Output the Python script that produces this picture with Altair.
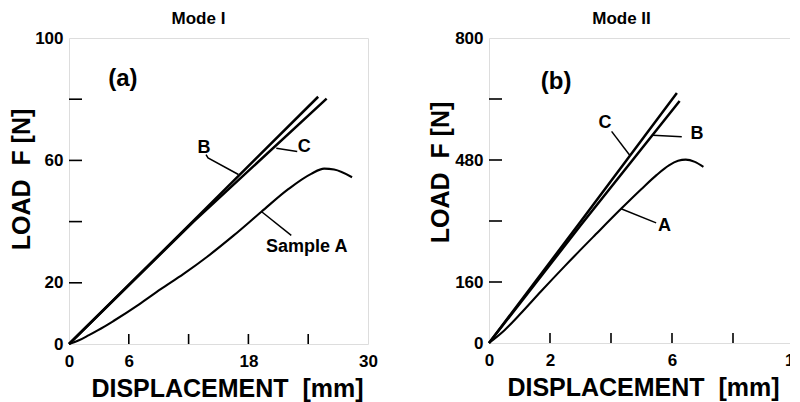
import altair as alt
import pandas as pd

FONT = "Liberation Sans"

# ---------------- Mode I data ----------------
a1_x = [0, 1, 2, 3.5, 4.5, 7, 9.2, 11.5, 13.9, 16.5, 19.3, 22, 24.3, 25.6, 26.6, 28.4]
a1_y = [0, 1.2, 2.9, 5.6, 7.6, 12.9, 17.9, 22.9, 28.6, 35.4, 43.2, 50.6, 55.6, 57.3, 57.0, 54.5]
b1_x = [0, 12.5, 25.0]
b1_y = [0, 40.3, 80.8]
c1_x = [0, 12.5, 25.85]
c1_y = [0, 40.0, 80.2]

lead1_id = ["B", "B", "B", "C", "C", "A", "A"]
lead1_x = [13.75, 13.95, 17.0, 20.8, 22.9, 19.3, 22.3]
lead1_y = [61.9, 60.8, 55.4, 64.0, 62.9, 43.3, 35.5]

lab1_text = ["(a)", "B", "C", "Sample A"]
lab1_x = [5.4, 13.55, 23.6, 23.85]
lab1_y = [86.5, 64.0, 64.4, 31.6]
lab1_size = [24, 18, 18, 18]

x1_ticks = [6, 12, 18, 24]
y1_ticks = [20, 40, 60, 80]
x1_labels = [0, 6, 18, 30]
y1_labels = [0, 20, 60, 100]

# ---------------- Mode II data ----------------
a2_x = [0, 0.5, 1, 1.7, 2.5, 3.5, 4.33, 5, 5.5, 5.9, 6.2, 6.45, 6.75, 7.03]
a2_y = [0, 33, 74, 135, 203, 285, 352, 404, 441, 466, 478, 481, 475, 462]
b2_x = [0, 3, 6.25]
b2_y = [0, 308, 635]
c2_x = [0, 3, 6.16]
c2_y = [0, 318, 656]

lead2_id = ["C", "C", "B", "B", "A", "A"]
lead2_x = [4.02, 4.62, 5.37, 6.32, 4.33, 5.48]
lead2_y = [555, 492, 545, 541, 352, 315]

lab2_text = ["(b)", "C", "B", "A"]
lab2_x = [2.2, 3.8, 6.82, 5.75]
lab2_y = [684, 578, 548, 306]
lab2_size = [24, 18, 18, 18]

x2_ticks = [2, 4, 6, 8]
y2_ticks = [160, 320, 480, 640]
x2_labels = [0, 2, 6, 10]
y2_labels = [0, 160, 480, 800]

titles = ["Mode I", "Mode II"]


def curves_df(series):
    rows = []
    for name, xs, ys in series:
        for i, (xv, yv) in enumerate(zip(xs, ys)):
            rows.append({"s": name, "i": i, "x": xv, "y": yv})
    return pd.DataFrame(rows)


def leaders_df(ids, xs, ys):
    return pd.DataFrame({"s": ids, "i": list(range(len(ids))), "x": xs, "y": ys})


def panel(title, curves_a, curves_bc, leads, labs, xdom, ydom, xt, yt, xl, yl,
          W, H, ytx, yty, xtx):
    xs = alt.Scale(domain=xdom, nice=False, zero=False)
    ys = alt.Scale(domain=ydom, nice=False, zero=False)
    xax = alt.Axis(values=xl, ticks=False, domain=False, grid=False,
                   labelFlush=False, labelPadding=9, labelFont=FONT,
                   labelFontSize=17, labelFontWeight="bold", labelColor="black",
                   title="DISPLACEMENT\u00a0\u00a0[mm]", titleFont=FONT,
                   titleFontSize=25, titleFontWeight="bold", titleColor="black",
                   titleX=xtx, titleY=52, titleBaseline="alphabetic",
                   titleAlign="center")
    yax = alt.Axis(values=yl, ticks=False, domain=False, grid=False,
                   labelFlush=False, labelPadding=6, labelFont=FONT,
                   labelFontSize=17, labelFontWeight="bold", labelColor="black",
                   title="LOAD\u00a0\u00a0F [N]", titleFont=FONT,
                   titleFontSize=25, titleFontWeight="bold", titleColor="black",
                   titleX=ytx, titleY=yty, titleBaseline="alphabetic",
                   titleAlign="center", titleAngle=270)

    line_bc = alt.Chart(curves_bc).mark_line(color="black", strokeWidth=2.5).encode(
        x=alt.X("x:Q", scale=xs, axis=xax),
        y=alt.Y("y:Q", scale=ys, axis=yax),
        detail="s:N",
        order="i:Q",
    )
    line_a = alt.Chart(curves_a).mark_line(color="black", strokeWidth=2.1,
                                           interpolate="monotone").encode(
        x=alt.X("x:Q", scale=xs), y=alt.Y("y:Q", scale=ys), order="i:Q",
    )
    leaders = alt.Chart(leads).mark_line(color="black", strokeWidth=1.5).encode(
        x=alt.X("x:Q", scale=xs), y=alt.Y("y:Q", scale=ys),
        detail="s:N", order="i:Q",
    )
    texts = alt.Chart(labs).mark_text(font=FONT, fontWeight="bold", color="black",
                                      align="center", baseline="middle").encode(
        x=alt.X("x:Q", scale=xs), y=alt.Y("y:Q", scale=ys),
        text="t:N", size=alt.Size("size:Q", scale=None, legend=None),
    )
    xtick = alt.Chart(pd.DataFrame({"x": xt})).mark_rule(color="black", strokeWidth=1.6).encode(
        x=alt.X("x:Q", scale=xs), y=alt.value(H), y2=alt.value(H - 10),
    )
    ytick = alt.Chart(pd.DataFrame({"y": yt})).mark_rule(color="black", strokeWidth=1.6).encode(
        y=alt.Y("y:Q", scale=ys), x=alt.value(0), x2=alt.value(13),
    )
    ttl = alt.Chart(pd.DataFrame({"t": [title]})).mark_text(
        font=FONT, fontWeight="bold", fontSize=17, color="black",
        align="center", baseline="middle").encode(
        text="t:N", x=alt.value(W / 2 - 20), y=alt.value(-19),
    )
    return alt.layer(line_bc, line_a, leaders, texts, xtick, ytick, ttl).properties(
        width=W, height=H,
    )


a1 = curves_df([("A", a1_x, a1_y)])
bc1 = curves_df([("B", b1_x, b1_y), ("C", c1_x, c1_y)])
a2 = curves_df([("A", a2_x, a2_y)])
bc2 = curves_df([("B", b2_x, b2_y), ("C", c2_x, c2_y)])
labs1 = pd.DataFrame({"t": lab1_text, "x": lab1_x, "y": lab1_y, "size": lab1_size})
labs2 = pd.DataFrame({"t": lab2_text, "x": lab2_x, "y": lab2_y, "size": lab2_size})

left = panel(titles[0], a1, bc1, leaders_df(lead1_id, lead1_x, lead1_y), labs1,
             [0, 30], [0, 100], x1_ticks, y1_ticks, x1_labels, y1_labels,
             299, 306, -40, 141, 158)
right = panel(titles[1], a2, bc2, leaders_df(lead2_id, lead2_x, lead2_y), labs2,
              [0, 10], [0, 800], x2_ticks, y2_ticks, x2_labels, y2_labels,
              305, 305, -41, 134, 154)

chart = alt.hconcat(left, right, spacing=121, bounds="flush").configure_view(
    stroke="black", strokeWidth=2
).configure(background="white").properties(
    padding={"left": 0, "top": 1, "right": -14, "bottom": 0}
)

chart.save("out.html", embed_options={"renderer": "svg", "actions": False})
